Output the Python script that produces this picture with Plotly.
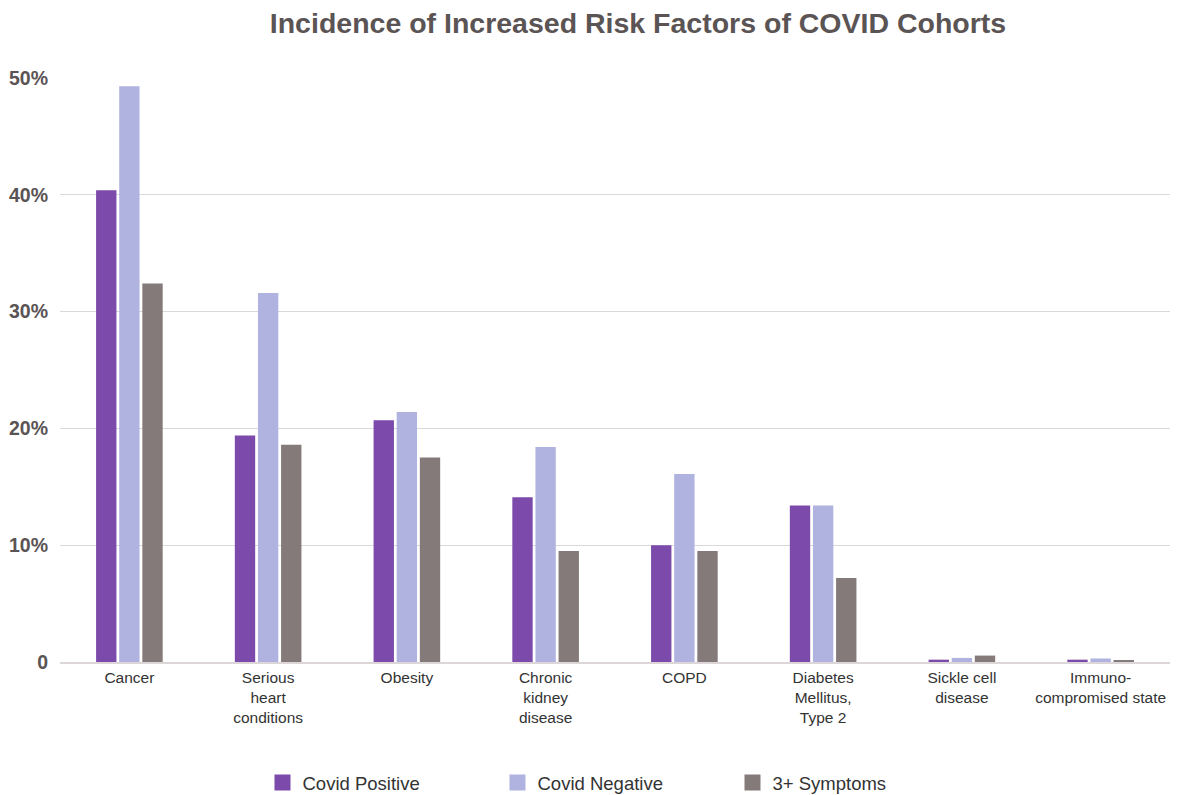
import plotly.graph_objects as go

categories = ["Cancer", "Serious<br>heart<br>conditions", "Obesity", "Chronic<br>kidney<br>disease",
              "COPD", "Diabetes<br>Mellitus,<br>Type 2", "Sickle cell<br>disease", "Immuno-<br>compromised state"]
covid_positive = [40.4, 19.4, 20.7, 14.1, 10.0, 13.4, 0.2, 0.2]
covid_negative = [49.3, 31.6, 21.4, 18.4, 16.1, 13.4, 0.35, 0.3]
three_symptoms = [32.4, 18.6, 17.5, 9.5, 9.5, 7.2, 0.55, 0.1]

series = [("Covid Positive", covid_positive, "#7b4aab"),
          ("Covid Negative", covid_negative, "#b0b3e0"),
          ("3+ Symptoms", three_symptoms, "#857a7a")]

fig = go.Figure()
for name, vals, col in series:
    fig.add_trace(go.Bar(x=categories, y=vals, name=name, marker=dict(color=col, line=dict(width=0)),
                         showlegend=False))
    fig.add_trace(go.Scatter(x=[None], y=[None], mode="markers", name=name,
                             marker=dict(symbol="square", size=20, color=col)))

tickvals = [0, 10, 20, 30, 40, 50]
ticktext = ["<b>0</b>", "<b>10%</b>", "<b>20%</b>", "<b>30%</b>", "<b>40%</b>", "<b>50%</b>"]

fig.update_layout(
    width=1178, height=795,
    margin=dict(l=60, r=8, t=78, b=133, autoexpand=False),
    paper_bgcolor="white", plot_bgcolor="white",
    font=dict(family="Liberation Sans, Arial, sans-serif", color="#333333"),
    title=dict(text="<b>Incidence of Increased Risk Factors of COVID Cohorts</b>",
               x=0.5416, xanchor="center", y=0.971, yanchor="middle",
               font=dict(size=28.5, color="#5b5454")),
    barmode="group", bargap=0.5, bargroupgap=0.12,
    xaxis=dict(showgrid=False, showline=True, linecolor="#ddd6d9", linewidth=2, automargin=False,
               ticks="", tickfont=dict(size=15.5, color="#333333"), fixedrange=True),
    yaxis=dict(range=[0, 50], tickvals=tickvals, ticktext=ticktext, automargin=False,
               showgrid=True, gridcolor="#d9d9d9", gridwidth=1, zeroline=False,
               tickfont=dict(size=19.5, color="#5b5454", family="Liberation Sans, Arial, sans-serif"),
               ticklabelstandoff=11),
    legend=dict(orientation="h", x=0.5, xanchor="center", y=-0.207, yanchor="middle",
                font=dict(size=18.5, color="#333333"), entrywidth=190, itemwidth=30),
)
fig.write_html("out.html")
